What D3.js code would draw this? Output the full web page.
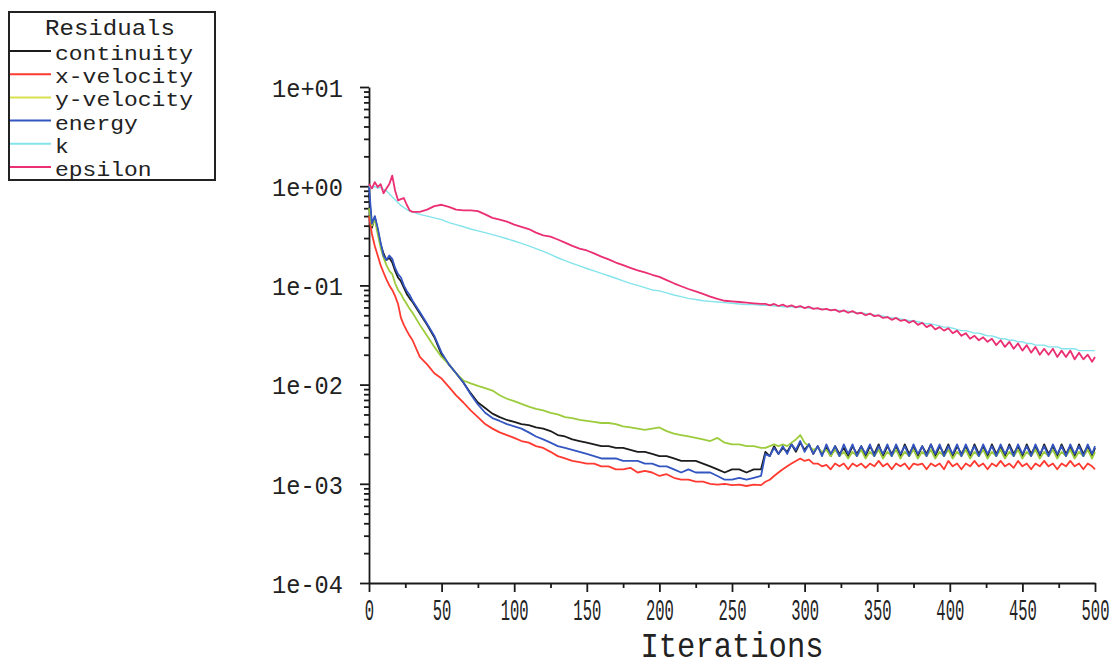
<!DOCTYPE html>
<html>
<head>
<meta charset="utf-8">
<script src="https://cdn.jsdelivr.net/npm/d3@7"></script>
<style>
  html, body { margin: 0; padding: 0; background: #ffffff; }
  svg { display: block; }
  text { font-family: "Liberation Mono", "DejaVu Sans Mono", monospace; fill: #222; }
</style>
</head>
<body>
<svg id="chart" width="1118" height="667"></svg>
<script>
// ---------------- DATA ----------------
const seriesNames = ["continuity", "x-velocity", "y-velocity", "energy", "k", "epsilon"];

const iterations = [
  0,2,4,6,8,10,12,14,16,18,20,22,24,26,28,30,
  35,40,45,50,55,60,65,70,75,80,85,90,95,100,105,110,115,120,125,130,
  135,140,145,150,155,160,165,170,175,180,185,190,195,200,205,210,215,220,225,230,
  235,240,245,250,255,260,265,270,
  273,276,279,282,285,288,291,294,297,300,
  303,306,309,312,315,318,321,324,327,330,
  333,336,339,342,345,348,351,354,357,360,
  363,366,369,372,375,378,381,384,387,390,
  393,396,399,402,405,408,411,414,417,420,
  423,426,429,432,435,438,441,444,447,450,
  453,456,459,462,465,468,471,474,477,480,
  483,486,489,492,495,498,500
];

const continuity = [
  0.85,0.38,0.49,0.36,0.26,0.21,0.18,0.19,0.17,0.14,0.12,0.11,0.095,0.082,0.074,0.068,
  0.052,0.04,0.03,0.02,0.016,0.013,0.0105,0.0082,0.0066,0.0058,
  0.0051,0.0047,0.0044,0.0042,0.004,0.0039,0.0037,0.0036,0.0034,0.0031,
  0.003,0.0028,0.0027,0.0026,0.0025,0.0024,0.0024,0.0023,0.0023,0.0022,
  0.0021,0.0021,0.002,0.0019,0.0019,0.0018,0.0017,0.0017,0.0017,0.0016,
  0.0015,0.0014,0.0013,0.0014,0.0014,0.0013,0.0014,0.0014,
  0.0021,0.0019,0.0024,0.002,0.0023,0.0021,0.0025,0.0021,0.0026,0.0022,
  0.0025,0.002,0.0024,0.002,0.0023,0.0019,0.0024,0.002,0.0023,0.0019,
  0.0024,0.002,0.0024,0.0019,0.0024,0.002,0.0025,0.0019,0.0024,0.002,
  0.0024,0.0019,0.0025,0.002,0.0024,0.0019,0.0024,0.002,0.0025,0.0019,
  0.0024,0.002,0.0025,0.0019,0.0024,0.002,0.0024,0.0019,0.0025,0.002,
  0.0024,0.0019,0.0025,0.002,0.0024,0.0019,0.0025,0.002,0.0024,0.0019,
  0.0025,0.002,0.0024,0.0019,0.0025,0.002,0.0024,0.0019,0.0025,0.002,
  0.0024,0.0019,0.0025,0.002,0.0024,0.0019,
  0.0023
];

const xVelocity = [
  0.5,0.33,0.25,0.2,0.16,0.135,0.115,0.1,0.09,0.078,0.065,0.047,0.04,0.035,0.031,0.028,
  0.019,0.016,0.013,0.0115,0.0095,0.0078,0.0066,0.0055,0.0047,0.004,
  0.0036,0.0033,0.0031,0.0029,0.0027,0.0026,0.0024,0.0023,0.0021,0.0019,
  0.0018,0.0017,0.00165,0.0016,0.0016,0.0015,0.0015,0.0014,0.0014,0.00145,
  0.0013,0.00135,0.0013,0.0012,0.00125,0.00115,0.0011,0.0011,0.00105,0.00105,
  0.001,0.00098,0.001,0.00097,0.00098,0.00095,0.00098,0.00097,
  0.00105,0.0011,0.0012,0.0013,0.0014,0.0015,0.0016,0.0017,0.0018,0.0017,
  0.00175,0.0016,0.0016,0.0015,0.00155,0.0014,0.0016,0.0015,0.0016,0.0014,
  0.0016,0.0015,0.0016,0.00145,0.0016,0.0015,0.0017,0.0015,0.0016,0.0014,
  0.0016,0.0015,0.0016,0.0014,0.0016,0.00155,0.0016,0.0014,0.0016,0.0015,
  0.0016,0.0014,0.0017,0.0015,0.0016,0.0014,0.0016,0.0015,0.0017,0.0015,
  0.0016,0.0014,0.0016,0.0015,0.0017,0.0015,0.0016,0.00145,0.0017,0.0015,
  0.0016,0.0014,0.0016,0.0015,0.0017,0.0015,0.0016,0.0014,0.0016,0.0015,
  0.0017,0.0015,0.0016,0.0014,0.0016,0.0015,
  0.0014
];

const yVelocity = [
  0.6,0.4,0.46,0.33,0.24,0.19,0.16,0.14,0.13,0.105,0.09,0.082,0.072,0.065,0.058,0.053,
  0.04,0.031,0.024,0.019,0.016,0.013,0.011,0.0103,0.0097,0.0092,
  0.0087,0.0078,0.0072,0.0068,0.0064,0.006,0.0057,0.0055,0.0052,0.005,
  0.0047,0.0046,0.0044,0.0043,0.0042,0.0041,0.0041,0.004,0.0038,0.0037,
  0.0036,0.0035,0.0036,0.0037,0.0034,0.0032,0.0031,0.003,0.0029,0.0028,
  0.0027,0.0029,0.0026,0.0025,0.0025,0.0024,0.0024,0.0023,
  0.0023,0.0024,0.0025,0.0024,0.0025,0.0024,0.0026,0.0028,0.0031,0.0026,
  0.0024,0.0022,0.0023,0.0021,0.0022,0.0019,0.0022,0.0019,0.0021,0.0018,
  0.0021,0.0019,0.0022,0.0018,0.0021,0.0019,0.0022,0.0018,0.0021,0.0019,
  0.0022,0.0018,0.0021,0.0019,0.0022,0.0018,0.0021,0.0019,0.0022,0.0018,
  0.0021,0.0019,0.0022,0.0018,0.0021,0.0019,0.0022,0.0018,0.0021,0.0019,
  0.0022,0.0018,0.0021,0.0019,0.0022,0.0018,0.0021,0.0019,0.0022,0.0018,
  0.0021,0.0019,0.0022,0.0018,0.0021,0.0019,0.0022,0.0018,0.0021,0.0019,
  0.0022,0.0018,0.0021,0.0019,0.0022,0.0018,
  0.0021
];

const energy = [
  1.0,0.42,0.5,0.38,0.27,0.2,0.18,0.2,0.185,0.15,0.13,0.12,0.1,0.088,0.08,0.07,
  0.054,0.041,0.031,0.021,0.016,0.013,0.0105,0.008,0.0063,0.0052,
  0.0046,0.0043,0.004,0.0038,0.0036,0.0033,0.003,0.0028,0.0026,0.0024,
  0.0023,0.0022,0.0021,0.002,0.0019,0.0018,0.0018,0.0018,0.0017,0.0017,
  0.0017,0.0016,0.0016,0.0015,0.0015,0.0014,0.0013,0.0014,0.0013,0.0013,
  0.0013,0.0012,0.0011,0.0011,0.00115,0.0011,0.00115,0.0012,
  0.002,0.0019,0.0023,0.002,0.0024,0.002,0.0025,0.0022,0.0027,0.0021,
  0.0025,0.002,0.0024,0.0019,0.0025,0.002,0.0024,0.0019,0.0025,0.002,
  0.0025,0.0019,0.0024,0.002,0.0025,0.0019,0.0024,0.002,0.0025,0.0019,
  0.0025,0.002,0.0024,0.0019,0.0025,0.002,0.0024,0.0019,0.0025,0.002,
  0.0025,0.0019,0.0024,0.002,0.0025,0.0019,0.0025,0.002,0.0024,0.0019,
  0.0025,0.002,0.0024,0.0019,0.0025,0.002,0.0024,0.0019,0.0025,0.002,
  0.0024,0.0019,0.0025,0.002,0.0024,0.0019,0.0025,0.002,0.0024,0.0019,
  0.0025,0.002,0.0024,0.0019,0.0025,0.002,
  0.0024
];

const kResidual = [
  1.0,0.95,1.0,0.95,0.98,0.93,0.9,0.84,0.78,0.73,0.68,0.64,0.61,0.58,0.56,0.55,
  0.52,0.5,0.48,0.46,0.43,0.41,0.39,0.37,0.355,0.34,
  0.325,0.31,0.295,0.28,0.265,0.25,0.235,0.22,0.205,0.19,
  0.178,0.167,0.157,0.148,0.14,0.132,0.125,0.118,0.111,0.105,
  0.1,0.095,0.09,0.088,0.084,0.08,0.077,0.074,0.072,0.07,
  0.069,0.068,0.067,0.066,0.065,0.064,0.064,0.063,
  0.063,0.063,0.062,0.062,0.061,0.061,0.061,0.06,0.06,0.06,
  0.059,0.059,0.058,0.058,0.057,0.057,0.056,0.056,0.055,0.055,
  0.054,0.053,0.053,0.052,0.051,0.05,0.05,0.049,0.048,0.047,
  0.047,0.046,0.045,0.044,0.044,0.043,0.042,0.041,0.041,0.04,
  0.039,0.038,0.038,0.037,0.036,0.035,0.035,0.034,0.033,0.033,
  0.032,0.031,0.031,0.03,0.029,0.029,0.028,0.028,0.027,0.027,
  0.026,0.026,0.025,0.025,0.025,0.024,0.024,0.024,0.023,0.023,
  0.023,0.023,0.022,0.022,0.022,0.022,
  0.022
];

const epsilon = [
  1.05,0.95,1.1,0.98,1.05,0.85,0.95,1.05,1.28,0.9,0.72,0.74,0.76,0.65,0.57,0.55,
  0.55,0.58,0.63,0.65,0.62,0.58,0.57,0.57,0.56,0.52,
  0.48,0.46,0.44,0.41,0.39,0.37,0.34,0.32,0.31,0.29,
  0.27,0.25,0.235,0.225,0.21,0.195,0.183,0.17,0.16,0.15,
  0.142,0.135,0.128,0.122,0.113,0.105,0.098,0.092,0.087,0.082,
  0.077,0.073,0.07,0.069,0.068,0.067,0.066,0.065,
  0.065,0.063,0.065,0.062,0.064,0.061,0.063,0.06,0.062,0.059,
  0.061,0.058,0.059,0.057,0.058,0.056,0.057,0.054,0.056,0.053,
  0.055,0.052,0.053,0.05,0.052,0.049,0.05,0.047,0.048,0.045,
  0.047,0.044,0.045,0.042,0.044,0.04,0.042,0.038,0.04,0.036,
  0.038,0.035,0.037,0.033,0.035,0.031,0.033,0.029,0.031,0.028,
  0.03,0.027,0.029,0.025,0.028,0.024,0.027,0.023,0.026,0.022,
  0.025,0.021,0.024,0.02,0.023,0.02,0.023,0.019,0.022,0.019,
  0.022,0.018,0.021,0.018,0.02,0.017,
  0.019
];

const seriesValues = [continuity, xVelocity, yVelocity, energy, kResidual, epsilon];
const seriesColors = ["#1c1c1c", "#ff3a30", "#9ccc3c", "#3456c0", "#84e4ec", "#ea2f72"];
const legendColors = ["#1c1c1c", "#ff3a30", "#d8e050", "#3456c0", "#84e4ec", "#ea2f72"];

const xTickValues = [0, 50, 100, 150, 200, 250, 300, 350, 400, 450, 500];
const xTickLabels = ["0", "50", "100", "150", "200", "250", "300", "350", "400", "450", "500"];
const xMinorTicks = [25, 75, 125, 175, 225, 275, 325, 375, 425, 475];
const yTickValues = [1e-4, 1e-3, 1e-2, 1e-1, 1, 10];
const yTickLabels = ["1e-04", "1e-03", "1e-02", "1e-01", "1e+00", "1e+01"];
const legendTitle = "Residuals";
const xTitle = "Iterations";

// ---------------- DRAW ----------------
const svg = d3.select("#chart");

const x = d3.scaleLinear().domain([0, 500]).range([369, 1095]);
const y = d3.scaleLog().domain([1e-4, 10]).range([583, 87]);

// minor y ticks (2..9 within each decade)
const yMinor = [];
yTickValues.slice(0, -1).forEach(d => { for (let m = 2; m <= 9; m++) yMinor.push(d * m); });

const gYMinor = svg.append("g").attr("transform", "translate(369,0)")
  .call(d3.axisLeft(y).tickValues(yMinor).tickSize(5).tickSizeOuter(0).tickFormat(""));
gYMinor.select(".domain").remove();

const gY = svg.append("g").attr("transform", "translate(369,0)")
  .call(d3.axisLeft(y).tickValues(yTickValues).tickSize(9).tickSizeOuter(0)
    .tickFormat((d, i) => yTickLabels[i]));

const gXMinor = svg.append("g").attr("transform", "translate(0,583)")
  .call(d3.axisBottom(x).tickValues(xMinorTicks).tickSize(5).tickSizeOuter(0).tickFormat(""));
gXMinor.select(".domain").remove();

const gX = svg.append("g").attr("transform", "translate(0,583)")
  .call(d3.axisBottom(x).tickValues(xTickValues).tickSize(9).tickSizeOuter(0)
    .tickFormat((d, i) => xTickLabels[i]));

svg.selectAll(".domain, .tick line").attr("stroke", "#1a1a1a").attr("stroke-width", 1.8);

gY.selectAll(".tick text")
  .attr("x", -26).attr("dy", "0.36em")
  .style("font-family", '"Liberation Mono", monospace')
  .style("font-size", "26px").attr("fill", "#222")
  .attr("textLength", 71).attr("lengthAdjust", "spacingAndGlyphs");

gX.selectAll(".tick text")
  .attr("y", 0).attr("dy", 0)
  .attr("transform", "translate(0,37) scale(1,1.55)")
  .style("font-family", '"Liberation Mono", monospace')
  .style("font-size", "19px").attr("fill", "#222")
  .attr("textLength", (d, i) => xTickLabels[i].length * 9.3)
  .attr("lengthAdjust", "spacingAndGlyphs");

svg.append("text")
  .attr("transform", `translate(${(x(0) + x(500)) / 2},657) scale(1,1.5)`)
  .attr("text-anchor", "middle")
  .style("font-size", "24px")
  .attr("textLength", 183).attr("lengthAdjust", "spacingAndGlyphs")
  .text(xTitle);

// lines
const line = d3.line()
  .x((d, i) => x(iterations[i]))
  .y(d => y(d));

seriesValues.forEach((vals, s) => {
  svg.append("path")
    .datum(vals)
    .attr("fill", "none")
    .attr("stroke", seriesColors[s])
    .attr("stroke-width", s === 4 ? 1.4 : 1.8)
    .attr("stroke-linejoin", "round")
    .attr("d", line);
});

// legend
const lg = svg.append("g");
lg.append("rect").attr("x", 9).attr("y", 12).attr("width", 206).attr("height", 168)
  .attr("fill", "white").attr("stroke", "#222").attr("stroke-width", 2);
lg.append("text").attr("x", 110).attr("y", 35).attr("text-anchor", "middle")
  .style("font-size", "22px")
  .attr("textLength", 130).attr("lengthAdjust", "spacingAndGlyphs")
  .text(legendTitle);
seriesNames.forEach((name, i) => {
  const by = 60 + i * 23.2;
  lg.append("line").attr("x1", 10).attr("x2", 51).attr("y1", by - 9).attr("y2", by - 9)
    .attr("stroke", legendColors[i]).attr("stroke-width", 2);
  lg.append("text").attr("x", 55).attr("y", by)
    .style("font-size", "20px")
    .attr("textLength", name.length * 13.8).attr("lengthAdjust", "spacingAndGlyphs")
    .text(name);
});
</script>
</body>
</html>
